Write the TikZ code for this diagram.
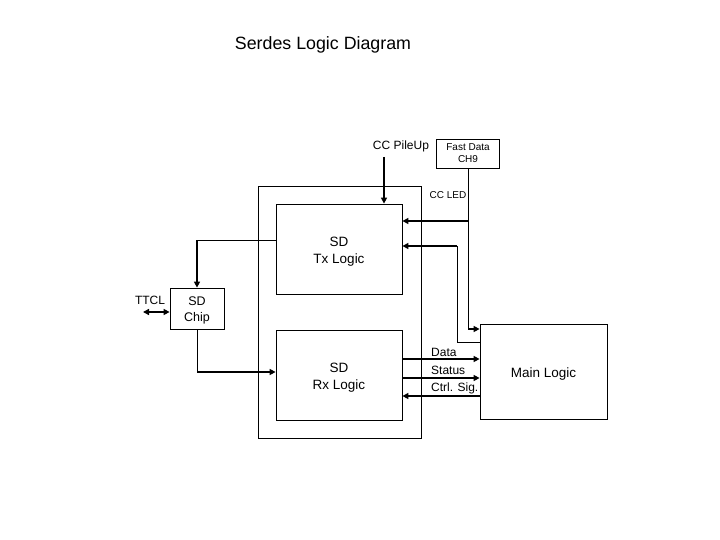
\documentclass[tikz,border=0pt]{standalone}
\usepackage{fontspec}
\setmainfont{Liberation Sans}
\usetikzlibrary{arrows.meta, calc}

\begin{document}
\begin{tikzpicture}[
    x=1pt, y=-1pt,
    block/.style={rectangle, draw, line width=0.8pt, inner sep=0pt},
    inside/.style={label={[align=center, inner sep=0pt, yshift=-3pt, font=\fontsize{13.5}{17}\selectfont]center:#1}},
    lbl/.style={inner sep=0pt, font=\fontsize{12}{14}\selectfont},
    small/.style={inner sep=0pt, align=center, font=\fontsize{10}{12}\selectfont},
    wire/.style={line width=0.8pt},
    bus/.style={line width=2.2pt, -{Triangle[length=6pt,width=6pt]}},
    dbus/.style={line width=2.2pt, {Triangle[length=6pt,width=6pt]}-{Triangle[length=6pt,width=6pt]}}
]
    \useasboundingbox (0,0) rectangle (720,540);
    \node [font=\fontsize{17.8}{20}\selectfont, inner sep=0pt] (title) at (323,45) {Serdes Logic Diagram};

    % boxes
    \node [block, minimum width=163, minimum height=252] (serdes) at (339.5,312) {};
    \node [block, minimum width=126, minimum height=90, inside={SD\\Tx Logic}] (tx) at (339,249) {};
    \node [block, minimum width=126, minimum height=90, inside={SD\\Rx Logic}] (rx) at (339,375) {};
    \node [block, minimum width=54, minimum height=41,
        label={[align=center, inner sep=0pt, yshift=-2pt, font=\fontsize{12.5}{16}\selectfont]center:SD\\Chip}] (chip) at (197,308.5) {};
    \node [block, small, minimum width=63, minimum height=29] (fast) at (468,153.5) {Fast Data\\CH9};
    \node [block, minimum width=127, minimum height=95, inside={Main Logic}] (main) at (543.5,371.5) {};

    % labels
    \node [lbl] (pileup) at (401,146) {CC PileUp};
    \node [small] (led) at (448,195) {CC LED};
    \node [lbl] (ttcl) at (150,300) {TTCL};
    \node [lbl, anchor=west] (data) at (431,352) {Data};
    \node [lbl, anchor=west] (status) at (431,370) {Status};
    \node [lbl, anchor=west] (ctrl) at (431,388) {Ctrl. Sig.};

    \coordinate (pileupend) at (384,157);
    \coordinate (ttclend) at (143,312);
    \coordinate (ledin) at (468,221);
    \coordinate (mainout) at (457,342);

    % connectors
    \draw [bus] (pileupend) -- (tx.north -| pileupend);
    \draw [wire] (fast.south) -- (fast.south |- 0,329);
    \draw [bus] (ledin) -- (tx.east |- ledin);
    \draw [bus] (fast.south |- 0,329) -- (main.west |- 0,329);
    \draw [wire] (main.west |- mainout) -- (mainout) -- (mainout |- 0,246);
    \draw [bus] (mainout |- 0,246) -- (tx.east |- 0,246);
    \draw [wire] (tx.west |- 0,240) -- (chip.north |- 0,240);
    \draw [bus] (chip.north |- 0,240) -- (chip.north);
    \draw [dbus] (ttclend) -- (chip.west |- ttclend);
    \draw [wire] (chip.south) -- (chip.south |- 0,372);
    \draw [bus] (chip.south |- 0,372) -- (rx.west |- 0,372);
    \draw [bus] (rx.east |- 0,359) -- (main.west |- 0,359);
    \draw [bus] (rx.east |- 0,378) -- (main.west |- 0,378);
    \draw [bus] (main.west |- 0,396) -- (rx.east |- 0,396);
\end{tikzpicture}
\end{document}
